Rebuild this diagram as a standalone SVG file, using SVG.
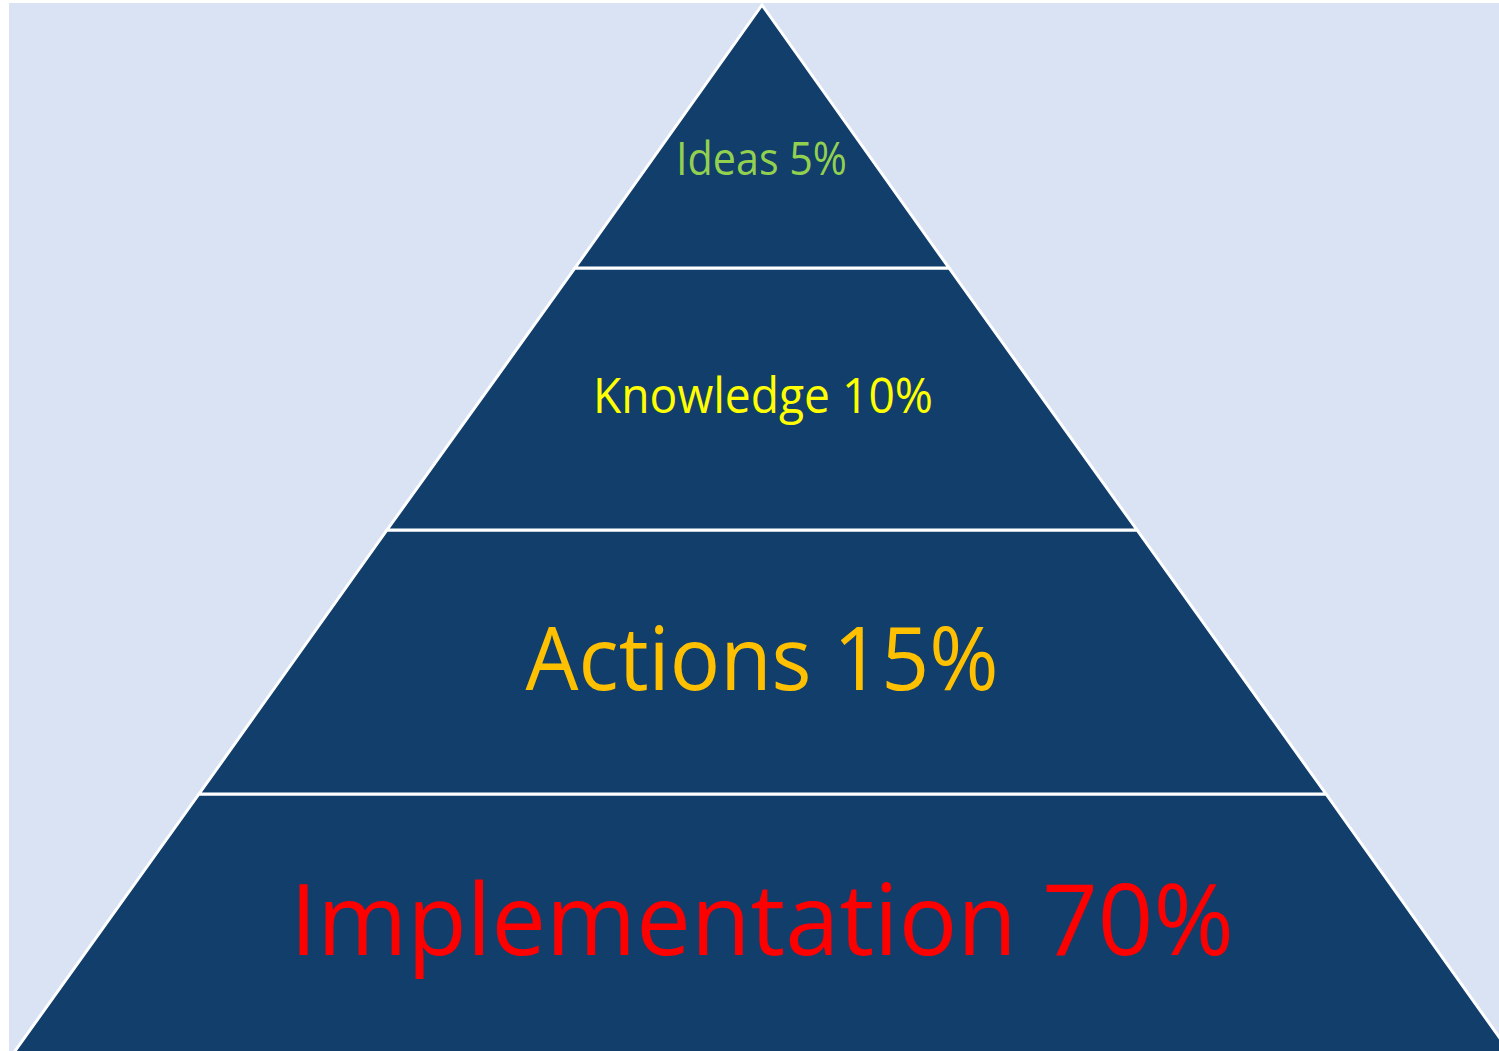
<svg xmlns="http://www.w3.org/2000/svg" width="1499" height="1051" viewBox="0 0 1499 1051">
<style>
.tier{fill:#113E6B;stroke:#FFFFFF;stroke-width:3;stroke-linejoin:miter}
.lbl{font-family:"Open Sans","Noto Sans","Liberation Sans",sans-serif;text-anchor:middle}
</style>
<rect x="0" y="0" width="1499" height="1051" fill="#FFFFFF"/>
<rect x="9" y="3" width="1490" height="1048" fill="#DAE3F3"/>
<g id="tier-implementation">
<polygon class="tier" points="199,794 1326,794 1514,1058 10,1058"/>
<text class="lbl" x="762" y="955" font-size="98" fill="#FF0000" textLength="944" lengthAdjust="spacingAndGlyphs">Implementation 70%</text>
</g>
<g id="tier-actions">
<polygon class="tier" points="387,530 1137,530 1326,794 199,794"/>
<text class="lbl" x="762" y="690" font-size="87" fill="#FFC000" textLength="473" lengthAdjust="spacingAndGlyphs">Actions 15%</text>
</g>
<g id="tier-knowledge">
<polygon class="tier" points="575,268 949,268 1137,530 387,530"/>
<text class="lbl" x="763" y="413" font-size="49" fill="#FFFF00" textLength="340" lengthAdjust="spacingAndGlyphs">Knowledge 10%</text>
</g>
<g id="tier-ideas">
<polygon class="tier" points="762,5 949,268 575,268"/>
<text class="lbl" x="761.5" y="175" font-size="45" fill="#92D050" textLength="171" lengthAdjust="spacingAndGlyphs">Ideas 5%</text>
</g>
<g id="connectors"/>
</svg>
